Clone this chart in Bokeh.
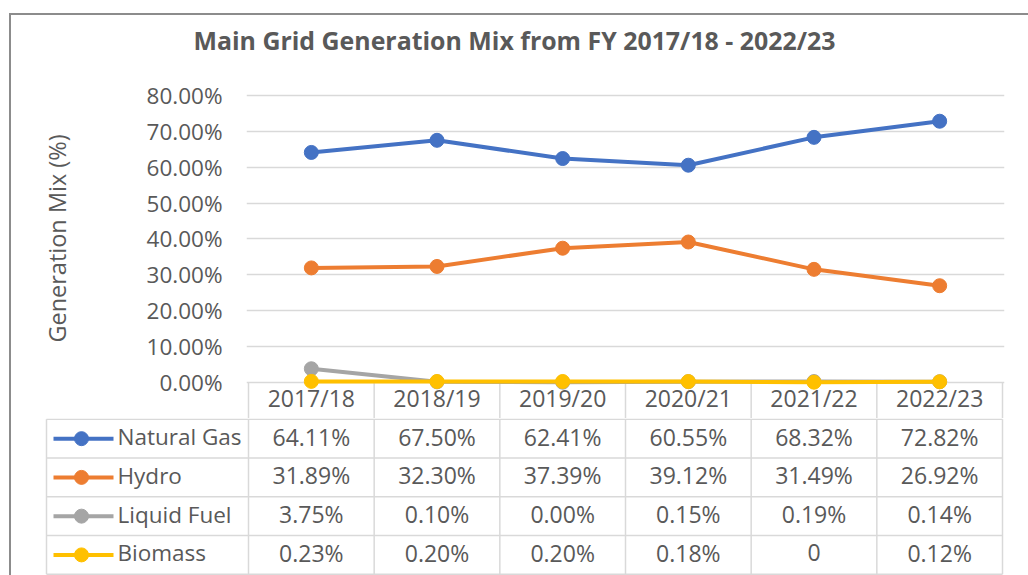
from bokeh.plotting import figure
from bokeh.layouts import column, row
from bokeh.models import FixedTicker, PrintfTickFormatter, Range1d, Div, Spacer
from bokeh.core.properties import value
from bokeh.embed import file_html
from bokeh.resources import INLINE

# ---------------- data ----------------
years = ["2017/18", "2018/19", "2019/20", "2020/21", "2021/22", "2022/23"]
natural_gas = [64.11, 67.50, 62.41, 60.55, 68.32, 72.82]
hydro = [31.89, 32.30, 37.39, 39.12, 31.49, 26.92]
liquid_fuel = [3.75, 0.10, 0.00, 0.15, 0.19, 0.14]
biomass = [0.23, 0.20, 0.20, 0.18, 0, 0.12]
series_names = ["Natural Gas", "Hydro", "Liquid Fuel", "Biomass"]
y_ticks = [0, 10, 20, 30, 40, 50, 60, 70, 80]

series_values = [natural_gas, hydro, liquid_fuel, biomass]
colors = ["#4472C4", "#ED7D31", "#A5A5A5", "#FFC000"]

FONT = "Open Sans"
TXT = "#595959"
GRID = "#D9D9D9"
EDGE = "#8C8C8C"

# ---------------- geometry (figures start at page x=11, y=15) ----------------
OX, OY = 11, 15
W = 1028 - OX
H_TOP = 418 - OY
H_BOT = 575 - 418
COL_W = 754 / 6
PX_PER = 286.7 / 80
Y_END = 80 + (95 - 58) / PX_PER
Y_START = -(418 - 381.7) / PX_PER
XPAD = 2 / COL_W

xc = [i + 0.5 for i in range(len(years))]


def fmt(v):
    return f"{v:.2f}%" if isinstance(v, float) else str(v)


# ---------------- top: chart ----------------
p = figure(width=W, height=H_TOP,
           x_range=Range1d(-XPAD, 6 + XPAD), y_range=Range1d(Y_START, Y_END),
           min_border_left=246 - OX, min_border_right=1028 - 1004, min_border_top=58 - OY,
           min_border_bottom=0, x_axis_type=None,
           output_backend="svg", toolbar_location=None)
p.frame_align = False
p.outline_line_color = None
p.background_fill_color = "white"
p.border_fill_color = "white"

p.title.text = "Main Grid Generation Mix from FY 2017/18 - 2022/23"
p.title.text_font = FONT
p.title.text_font_size = "24.9px"
p.title.text_font_style = "bold"
p.title.text_color = TXT
p.title.align = "left"
p.title.offset = 193 - 246
p.title.standoff = 3

ax = p.yaxis[0]
ax.ticker = FixedTicker(ticks=y_ticks)
ax.formatter = PrintfTickFormatter(format="%.2f%%")
ax.axis_line_color = None
ax.major_tick_line_color = None
ax.minor_tick_line_color = None
ax.major_tick_out = 0
ax.major_tick_in = 0
ax.major_label_standoff = 24
ax.major_label_text_font = FONT
ax.major_label_text_font_size = "22.5px"
ax.major_label_text_color = TXT
ax.axis_label = "Generation Mix (%)"
ax.axis_label_text_font = FONT
ax.axis_label_text_font_size = "23.5px"
ax.axis_label_text_font_style = "normal"
ax.axis_label_text_color = TXT
ax.axis_label_standoff = 71

p.xgrid.visible = False
p.ygrid.grid_line_color = GRID
p.ygrid.grid_line_width = 1.5

# header cell borders
bounds = list(range(len(years) + 1))
p.segment(x0=bounds, y0=[0] * len(bounds), x1=bounds, y1=[Y_START] * len(bounds),
          line_color=GRID, line_width=1.5)
p.text(x=xc, y=[Y_START / 2] * len(years), text=years, y_offset=-2,
       text_font=value(FONT), text_font_size="23px", text_color=TXT,
       text_align="center", text_baseline="middle")

for vals, col, name in zip(series_values, colors, series_names):
    p.line(xc, vals, line_color=col, line_width=4)
    p.scatter(xc, vals, size=14, fill_color=col, line_color=col)

# ---------------- bottom: data table ----------------
XB0 = (OX - 248) / COL_W
XB1 = XB0 + W / COL_W
ROW_H = 38.75
YB1 = 0.02
YB0 = YB1 - H_BOT / ROW_H
TL = (46 - 248) / COL_W

q = figure(width=W, height=H_BOT, x_range=Range1d(XB0, XB1), y_range=Range1d(YB0, YB1),
           min_border=0, x_axis_type=None, y_axis_type=None,
           output_backend="svg", toolbar_location=None)
q.frame_align = False
q.outline_line_color = None
q.xgrid.visible = False
q.ygrid.visible = False

n = len(series_names)
hy = [-k for k in range(n + 1)]
q.segment(x0=[TL] * len(hy), y0=hy, x1=[6] * len(hy), y1=hy, line_color=GRID, line_width=1.5)
vx = [TL] + bounds
q.segment(x0=vx, y0=[0] * len(vx), x1=vx, y1=[-n] * len(vx), line_color=GRID, line_width=1.5)

row_c = [-(k + 0.5) for k in range(n)]
k0 = (53 - 248) / COL_W
k1 = (113 - 248) / COL_W
km = (81 - 248) / COL_W
lx = (117 - 248) / COL_W
q.segment(x0=[k0] * n, y0=row_c, x1=[k1] * n, y1=row_c, line_color=colors, line_width=4)
q.scatter(x=[km] * n, y=row_c, size=14, fill_color=colors, line_color=colors)
q.text(x=[lx] * n, y=row_c, text=series_names, y_offset=-2,
       text_font=value(FONT), text_font_size="22.5px",
       text_color=TXT, text_align="left", text_baseline="middle")

for k, vals in enumerate(series_values):
    q.text(x=xc, y=[row_c[k]] * len(vals), text=[fmt(v) for v in vals], y_offset=-2,
           text_font=value(FONT), text_font_size="23px", text_color=TXT,
           text_align="center", text_baseline="middle")

# ---------------- outer chart border (top and left edges) ----------------
top_edge = Div(text="", width=1028 - 9, height=2, margin=0,
               styles={"background-color": EDGE})
left_edge = Div(text="", width=2, height=H_TOP + H_BOT, margin=0,
                styles={"background-color": EDGE})

layout = column(
    Spacer(width=1028, height=13, margin=0),
    row(Spacer(width=9, height=2, margin=0), top_edge, spacing=0),
    row(Spacer(width=9, height=H_TOP + H_BOT, margin=0), left_edge,
        column(p, q, spacing=0), spacing=0),
    spacing=0,
)

open("out.html", "w").write(file_html(layout, INLINE))
